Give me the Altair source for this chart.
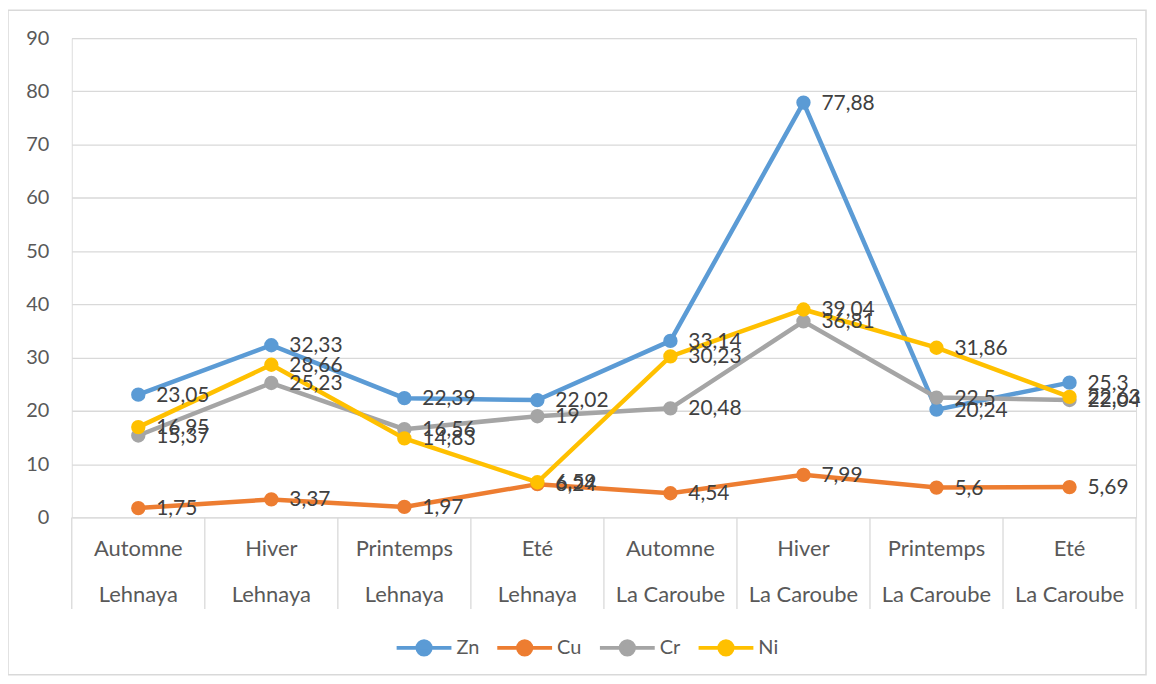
import altair as alt
import pandas as pd

sites = ["Lehnaya"] * 4 + ["La Caroube"] * 4
seasons = ["Automne", "Hiver", "Printemps", "Eté"] * 2
metals = ["Zn", "Cu", "Cr", "Ni"]
zn = [23.05, 32.33, 22.39, 22.02, 33.14, 77.88, 20.24, 25.3]
cu = [1.75, 3.37, 1.97, 6.24, 4.54, 7.99, 5.6, 5.69]
cr = [15.37, 25.23, 16.56, 19, 20.48, 36.81, 22.5, 22.04]
ni = [16.95, 28.66, 14.83, 6.59, 30.23, 39.04, 31.86, 22.63]
colors = ["#5b9bd5", "#ed7d31", "#a5a5a5", "#ffc000"]
y_ticks = list(range(0, 100, 10))

FONT = "Lato"
W, H = 1068, 481

rows = []
for k, (m, vals) in enumerate(zip(metals, [zn, cu, cr, ni])):
    for i, v in enumerate(vals):
        rows.append({"pos": i + 0.5, "metal": m, "order": k, "value": v,
                     "label": f"{v:g}".replace(".", ",")})
df = pd.DataFrame(rows)

cats = pd.DataFrame({"pos": [i + 0.5 for i in range(len(seasons))],
                     "season": seasons, "site": sites})
bounds = pd.DataFrame({"b": list(range(len(seasons) + 1))})

xs = alt.Scale(domain=[0, len(seasons)])
ys = alt.Scale(domain=[0, 90])
cs = alt.Scale(domain=metals, range=colors)

leg = alt.Legend(
    title=None, orient="none", legendX=324, legendY=582, direction="horizontal",
    symbolType="M-1,0H1M-0.24,0a0.24,0.24 0 1,0 0.48,0a0.24,0.24 0 1,0 -0.48,0",
    symbolSize=3025, symbolStrokeWidth=4, labelFontSize=20, labelColor="#595959",
    labelFont=FONT, labelOffset=3, columnPadding=10, symbolOpacity=1,
)

frame = alt.Chart(alt.Data(values=[{"a": 1}])).mark_rect(
    fill="transparent", stroke="#d9d9d9", strokeWidth=1.5
).encode(x=alt.value(-64), x2=alt.value(1078), y=alt.value(-28), y2=alt.value(639))

base = alt.Chart(df)
x = alt.X("pos:Q", scale=xs, axis=None)
y = alt.Y("value:Q", scale=ys, axis=alt.Axis(
    values=y_ticks, title=None, domain=False, ticks=False, tickSize=0,
    labelPadding=23, labelFontSize=20, labelColor="#595959", labelFont=FONT,
    gridColor="#d9d9d9", gridWidth=1.3))

lines = base.mark_line(strokeWidth=4.5).encode(
    x=x, y=y, stroke=alt.Stroke("metal:N", scale=cs, legend=leg),
    detail="metal:N", order="pos:Q")
points = base.mark_point(size=154, filled=True, opacity=1).encode(
    x=x, y=y, fill=alt.Fill("metal:N", scale=cs, legend=leg),
    stroke=alt.Stroke("metal:N", scale=cs, legend=leg))
labels = base.mark_text(align="left", baseline="middle", dx=18, dy=1, fontSize=21,
                        color="#404040", font=FONT).encode(
    x=x, y=y, text="label:N", order="order:Q")

seps = alt.Chart(bounds).mark_rule(color="#d9d9d9", strokeWidth=1.3).encode(
    x=alt.X("b:Q", scale=xs, axis=None), y=alt.value(H), y2=alt.value(H + 92))
row1 = alt.Chart(cats).mark_text(fontSize=22, color="#595959", font=FONT,
                                 baseline="middle").encode(
    x=alt.X("pos:Q", scale=xs, axis=None), y=alt.value(H + 32), text="season:N")
row2 = alt.Chart(cats).mark_text(fontSize=22, color="#595959", font=FONT,
                                 baseline="middle").encode(
    x=alt.X("pos:Q", scale=xs, axis=None), y=alt.value(H + 78), text="site:N")

chart = alt.layer(frame, seps, row1, row2, lines, points, labels).properties(
    width=W, height=H,
    autosize=alt.AutoSizeParams(type="none"),
    padding={"left": 64, "top": 29, "right": 12, "bottom": 160},
).configure_view(stroke=None).configure(background="white")

chart.save("out.html", embed_options={"renderer": "svg", "actions": False})
